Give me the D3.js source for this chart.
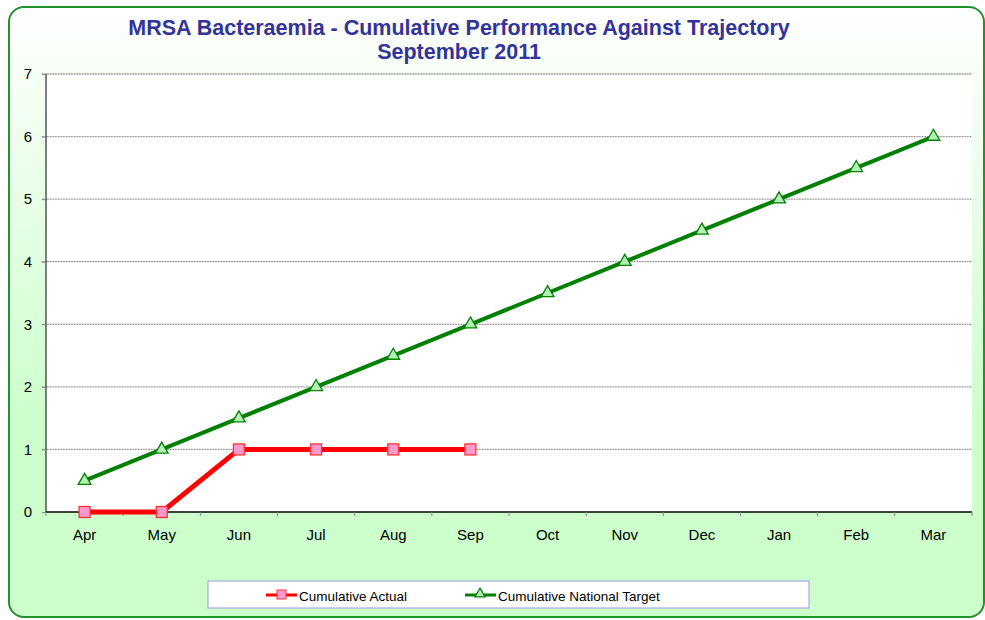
<!DOCTYPE html>
<html>
<head>
<meta charset="utf-8">
<script src="https://cdnjs.cloudflare.com/ajax/libs/d3/7.8.5/d3.min.js"></script>
<style>
  body { margin: 0; background: #fff; }
  svg { display: block; font-family: "Liberation Sans", Arial, sans-serif; }
</style>
</head>
<body>
<div id="chart"></div>
<script>
var months = ['Apr','May','Jun','Jul','Aug','Sep','Oct','Nov','Dec','Jan','Feb','Mar']
var actual = [0, 0, 1, 1, 1, 1]
var target = [0.5, 1, 1.5, 2, 2.5, 3, 3.5, 4, 4.5, 5, 5.5, 6]
var yTicks = [0, 1, 2, 3, 4, 5, 6, 7]
var seriesNames = ['Cumulative Actual', 'Cumulative National Target']

var width = 985, height = 620
var plotL = 46, plotR = 972, plotT = 74, plotB = 512

var svg = d3.select('#chart').append('svg')
  .attr('width', width)
  .attr('height', height)

// background gradient, white at top to pale green
var grad = svg.append('defs').append('linearGradient')
  .attr('id', 'bg').attr('x1', 0).attr('y1', 0).attr('x2', 0).attr('y2', 1)
grad.append('stop').attr('offset', '0%').attr('stop-color', '#ffffff')
grad.append('stop').attr('offset', '68%').attr('stop-color', '#ccffcc')
grad.append('stop').attr('offset', '100%').attr('stop-color', '#ccffcc')

svg.append('rect')
  .attr('x', 9).attr('y', 7)
  .attr('width', 975).attr('height', 610)
  .attr('rx', 15).attr('ry', 15)
  .attr('fill', 'url(#bg)')
  .attr('stroke', '#22922a')
  .attr('stroke-width', 2)

var x = d3.scaleBand().domain(months).range([plotL, plotR])
var y = d3.scaleLinear().domain([0, 7]).range([plotB, plotT])

svg.append('rect')
  .attr('x', plotL).attr('y', plotT)
  .attr('width', plotR - plotL).attr('height', plotB - plotT)
  .attr('fill', '#fff')

// gridlines
svg.append('g').selectAll('line')
  .data(yTicks.filter(function(d) { return d > 0 }))
  .enter().append('line')
    .attr('x1', plotL - 4).attr('x2', plotR)
    .attr('y1', function(d) { return y(d) }).attr('y2', function(d) { return y(d) })
    .attr('stroke', '#8c8c8c').attr('stroke-width', 1.3)
    .attr('stroke-dasharray', '1,0.6')

// y axis
var yAxis = svg.append('g')
  .attr('transform', 'translate(' + plotL + ',0)')
  .call(d3.axisLeft(y).tickValues(yTicks).tickFormat(d3.format('d')).tickSize(4).tickPadding(10))
yAxis.select('.domain').attr('stroke', '#000').attr('d', 'M0,' + plotT + 'V' + plotB)
yAxis.selectAll('.tick line').attr('stroke', '#888')
yAxis.selectAll('text').attr('font-size', 15).attr('fill', '#000')
  .attr('font-family', '"Liberation Sans", Arial, sans-serif')

// x axis
var xAxis = svg.append('g')
  .attr('transform', 'translate(0,' + plotB + ')')
  .call(d3.axisBottom(x).tickSize(0).tickPadding(17))
xAxis.select('.domain').attr('stroke', '#000').attr('stroke-width', 1.5).attr('d', 'M' + plotL + ',0H' + plotR)
xAxis.selectAll('text').attr('font-size', 15).attr('fill', '#000')
  .attr('font-family', '"Liberation Sans", Arial, sans-serif')
svg.append('g').selectAll('line')
  .data(months.concat(['end']))
  .enter().append('line')
    .attr('x1', function(d, i) { return plotL + i * x.step() })
    .attr('x2', function(d, i) { return plotL + i * x.step() })
    .attr('y1', plotB).attr('y2', plotB + 4)
    .attr('stroke', '#888')

var line = d3.line()
  .x(function(d, i) { return x(months[i]) + x.bandwidth() / 2 })
  .y(function(d) { return y(d) })

// target line
svg.append('path').datum(target)
  .attr('d', line).attr('fill', 'none')
  .attr('stroke', '#008000').attr('stroke-width', 4)
var tri = d3.symbol().type(d3.symbolTriangle).size(70)
svg.append('g').selectAll('path')
  .data(target).enter().append('path')
    .attr('d', tri)
    .attr('transform', function(d, i) { return 'translate(' + (x(months[i]) + x.bandwidth() / 2) + ',' + y(d) + ')' })
    .attr('fill', '#b3f0b3').attr('stroke', '#008000').attr('stroke-width', 1.3)

// actual line
svg.append('path').datum(actual)
  .attr('d', line).attr('fill', 'none')
  .attr('stroke', '#ff0000').attr('stroke-width', 5)
svg.append('g').selectAll('rect')
  .data(actual).enter().append('rect')
    .attr('x', function(d, i) { return x(months[i]) + x.bandwidth() / 2 - 5.5 })
    .attr('y', function(d) { return y(d) - 5.5 })
    .attr('width', 11).attr('height', 11)
    .attr('fill', '#ff99cc').attr('stroke', '#ff3333').attr('stroke-width', 1.3)

// title
var title = svg.append('text')
  .attr('text-anchor', 'middle')
  .attr('fill', '#333399').attr('font-weight', 'bold').attr('font-size', 21.5)
title.append('tspan').attr('x', 459).attr('y', 35)
  .text('MRSA Bacteraemia - Cumulative Performance Against Trajectory')
title.append('tspan').attr('x', 459).attr('y', 59).text('September 2011')

// legend
var legend = svg.append('g')
legend.append('rect')
  .attr('x', 208).attr('y', 581).attr('width', 601).attr('height', 27)
  .attr('fill', '#fff').attr('stroke', '#9999dd').attr('stroke-width', 1)
var items = [
  { name: seriesNames[0], x: 266, color: '#ff0000', shape: 'square' },
  { name: seriesNames[1], x: 465, color: '#008000', shape: 'triangle' }
]
items.forEach(function(it) {
  legend.append('line')
    .attr('x1', it.x).attr('x2', it.x + 31)
    .attr('y1', 595).attr('y2', 595)
    .attr('stroke', it.color).attr('stroke-width', 3)
  if (it.shape == 'square') {
    legend.append('rect')
      .attr('x', it.x + 11).attr('y', 590).attr('width', 9).attr('height', 9)
      .attr('fill', '#ff99cc').attr('stroke', '#ff3333')
  } else {
    legend.append('path')
      .attr('d', d3.symbol().type(d3.symbolTriangle).size(45))
      .attr('transform', 'translate(' + (it.x + 15) + ',594)')
      .attr('fill', '#b3f0b3').attr('stroke', '#008000').attr('stroke-width', 1.2)
  }
  legend.append('text')
    .attr('x', it.x + 33).attr('y', 600.5)
    .attr('font-size', 13.5).attr('fill', '#000')
    .text(it.name)
})
</script>
</body>
</html>
